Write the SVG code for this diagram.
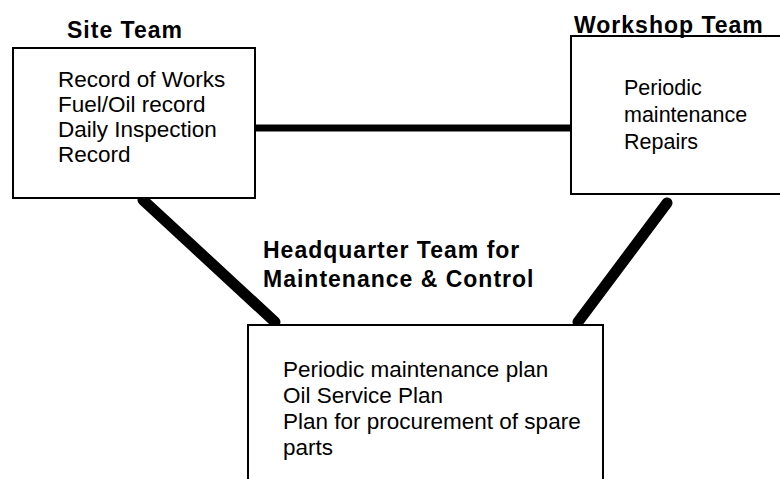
<svg xmlns="http://www.w3.org/2000/svg" width="780" height="479" viewBox="0 0 780 479">
  <style>
    .box { fill: #ffffff; stroke: #000000; stroke-width: 2; }
    .title { font-family: "Liberation Sans", Arial, sans-serif; font-weight: bold; font-size: 23px; letter-spacing: 1px; fill: #000000; }
    .body { font-family: "Liberation Sans", Arial, sans-serif; font-size: 22.5px; fill: #000000; }
    .small { font-size: 21.5px; }
    .link { stroke: #000000; fill: none; stroke-linecap: round; }
  </style>
  <rect width="780" height="479" fill="#ffffff"/>

  <!-- connectors between the teams -->
  <g id="connectors">
    <line class="link" x1="255" y1="128" x2="571" y2="128" stroke-width="7"/>
    <line class="link" x1="143" y1="200" x2="275" y2="322" stroke-width="11"/>
    <line class="link" x1="667" y1="203" x2="578" y2="322" stroke-width="11"/>
  </g>

  <g id="site-team">
    <rect class="box" x="13" y="48" width="242" height="150"/>
    <text class="title" x="67" y="38">Site Team</text>
    <text class="body" x="58" y="87">Record of Works</text>
    <text class="body" x="58" y="112">Fuel/Oil record</text>
    <text class="body" x="58" y="137">Daily Inspection</text>
    <text class="body" x="58" y="162">Record</text>
  </g>

  <g id="workshop-team">
    <rect class="box" x="571" y="36" width="220" height="158"/>
    <text class="title" x="574" y="33">Workshop Team</text>
    <text class="body small" x="624" y="95">Periodic</text>
    <text class="body small" x="624" y="122">maintenance</text>
    <text class="body small" x="624" y="149">Repairs</text>
  </g>

  <g id="headquarter-team">
    <text class="title" x="263" y="258">Headquarter Team for</text>
    <text class="title" x="263" y="287">Maintenance &amp; Control</text>
    <rect class="box" x="248" y="325" width="355" height="170"/>
    <text class="body" x="283" y="377">Periodic maintenance plan</text>
    <text class="body" x="283" y="403">Oil Service Plan</text>
    <text class="body" x="283" y="429">Plan for procurement of spare</text>
    <text class="body" x="283" y="455">parts</text>
  </g>
</svg>
